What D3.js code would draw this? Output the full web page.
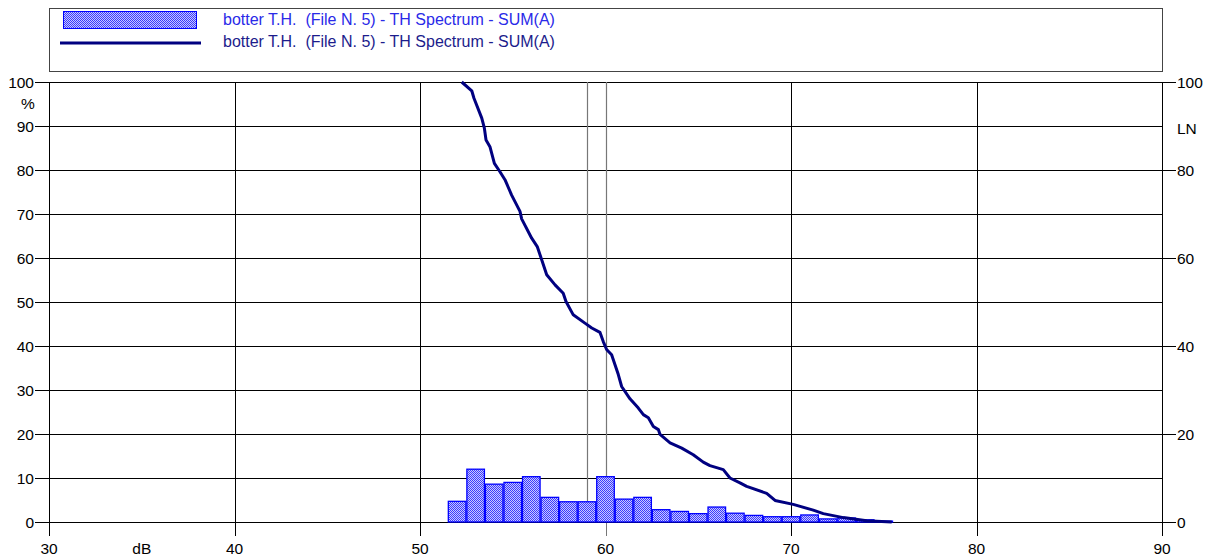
<!DOCTYPE html>
<html><head><meta charset="utf-8">
<script src="https://cdn.jsdelivr.net/npm/d3@7"></script>
<style>
html,body{margin:0;padding:0;background:#fff;}
svg{display:block;font-family:"Liberation Sans",Arial,sans-serif;}
text{white-space:pre;}
</style></head><body>
<svg id="c" width="1210" height="557"></svg>
<script>
// ---- data ----
const legendLabels = ["botter T.H.  (File N. 5) - TH Spectrum - SUM(A)", "botter T.H.  (File N. 5) - TH Spectrum - SUM(A)"];
const xTicks = [30, 40, 50, 60, 70, 80, 90];
const yTicksLeft = [0, 10, 20, 30, 40, 50, 60, 70, 80, 90, 100];
const yTicksRight = [0, 20, 40, 60, 80, 100];
const markers = [59, 60];
const binCenters = [52,53,54,55,56,57,58,59,60,61,62,63,64,65,66,67,68,69,70,71,72,73,74,75];
const binValues  = [4.7,12.0,8.6,9.0,10.3,5.6,4.6,4.6,10.3,5.2,5.6,2.8,2.4,1.9,3.4,2.0,1.5,1.2,1.2,1.6,0.7,0.9,0.5,0.2];
const lnDb  = [52.25,52.79,52.91,53.33,53.47,53.56,53.77,54.01,54.31,54.58,54.94,55.39,55.48,56.02,56.32,56.56,56.83,57.28,57.72,57.87,58.18,58.26,58.89,59.26,59.70,59.88,60.06,60.33,60.69,60.87,61.32,61.77,62.04,62.31,62.58,62.85,62.94,63.48,64.11,64.73,65.27,65.63,66.35,66.71,67.25,67.61,68.69,69.14,70.12,71.20,71.74,72.82,74.08,75.43];
const lnPct = [100,98.0,96.3,91.8,89.5,86.8,85.3,81.5,79.6,77.8,74.3,70.6,68.9,64.5,62.6,59.6,56.2,53.9,52.0,50.1,47.7,47.1,45.2,44.1,43.1,41.0,39.2,38.0,33.5,30.8,28.0,25.9,24.4,23.7,21.7,21.0,19.9,18.0,16.8,15.3,13.6,12.8,11.9,10.0,8.9,8.1,6.5,4.9,4.0,2.7,1.9,1.0,0.3,0.0];

// ---- chart ----
const svg = d3.select("#c");
const L = 49, R = 1162, T = 82, B = 522;
const x = d3.scaleLinear().domain([30, 90]).range([L, R]);
const y = d3.scaleLinear().domain([0, 100]).range([B, T]);

const defs = svg.append("defs");
const pat = defs.append("pattern").attr("id","chk").attr("width",2).attr("height",2).attr("patternUnits","userSpaceOnUse");
pat.append("rect").attr("width",2).attr("height",2).attr("fill","#c8c8ff");
pat.append("rect").attr("width",1).attr("height",1).attr("fill","#3a3aff");
pat.append("rect").attr("x",1).attr("y",1).attr("width",1).attr("height",1).attr("fill","#3a3aff");

// legend
const lg = svg.append("g");
lg.append("rect").attr("x",49.5).attr("y",8.5).attr("width",R-49).attr("height",63).attr("fill","#fff").attr("stroke","#444").attr("stroke-width",1);
lg.append("rect").attr("x",63.5).attr("y",11.5).attr("width",133).attr("height",17).attr("fill","url(#chk)").attr("stroke","#0000ff").attr("stroke-width",1);
lg.append("line").attr("x1",60).attr("x2",201).attr("y1",43).attr("y2",43).attr("stroke","#000080").attr("stroke-width",3);
lg.append("text").attr("x",223).attr("y",24.5).attr("font-size",16).attr("fill","#2a2ae8").text(legendLabels[0]);
lg.append("text").attr("x",223).attr("y",47).attr("font-size",16).attr("fill","#1c1c8c").text(legendLabels[1]);

// grid
const g = svg.append("g");
g.selectAll(".hg").data(yTicksLeft).join("line")
  .attr("x1", L - 14).attr("x2", R).attr("y1", d => Math.round(y(d)) + 0.5).attr("y2", d => Math.round(y(d)) + 0.5)
  .attr("stroke", "#000").attr("stroke-width", 1);
g.selectAll(".rt").data(yTicksRight).join("line")
  .attr("x1", R).attr("x2", R + 14).attr("y1", d => Math.round(y(d)) + 0.5).attr("y2", d => Math.round(y(d)) + 0.5)
  .attr("stroke", "#000").attr("stroke-width", 1);
g.selectAll(".vg").data(xTicks).join("line")
  .attr("x1", d => Math.round(x(d)) + 0.5).attr("x2", d => Math.round(x(d)) + 0.5)
  .attr("y1", T).attr("y2", B + 14)
  .attr("stroke", d => markers.includes(d) ? "#777" : "#000").attr("stroke-width", 1);
g.selectAll(".mk").data(markers).join("line")
  .attr("x1", d => Math.round(x(d)) + 0.5).attr("x2", d => Math.round(x(d)) + 0.5)
  .attr("y1", T).attr("y2", B)
  .attr("stroke", "#777").attr("stroke-width", 1.2);
g.append("line").attr("x1", L).attr("x2", R).attr("y1", Math.round(y(0)) + 0.5).attr("y2", Math.round(y(0)) + 0.5).attr("stroke","#000");

// labels
const lab = svg.append("g").attr("font-size", 15.5).attr("fill", "#000");
lab.selectAll(".yl").data(yTicksLeft).join("text")
  .attr("x", 34).attr("y", d => y(d) + 5.5).attr("text-anchor", "end").text(d => d);
lab.selectAll(".yr").data(yTicksRight).join("text")
  .attr("x", 1177).attr("y", d => y(d) + 5.5).attr("text-anchor", "start").text(d => d);
lab.selectAll(".xl").data(xTicks).join("text")
  .attr("x", d => x(d)).attr("y", 554).attr("text-anchor", "middle").text(d => d);
lab.append("text").attr("x", x(35)).attr("y", 554).attr("text-anchor", "middle").text("dB");
lab.append("text").attr("x", 28).attr("y", 108.5).attr("text-anchor", "middle").text("%");
lab.append("text").attr("x", 1177).attr("y", 134).attr("text-anchor", "start").text("LN");

// bars
svg.append("g").selectAll("rect").data(binCenters).join("rect")
  .attr("x", d => x(d - 0.5) + 0.5)
  .attr("width", d => x(d + 0.5) - x(d - 0.5) - 1)
  .attr("y", (d, i) => y(binValues[i]))
  .attr("height", (d, i) => y(0) - y(binValues[i]))
  .attr("fill", "url(#chk)").attr("stroke", "#0000ff").attr("stroke-width", 1.3);

// cumulative curve
const pts = lnDb.map((d, i) => [d, lnPct[i]]);
svg.append("path").datum(pts)
  .attr("d", d3.line().x(d => x(d[0])).y(d => y(d[1])))
  .attr("fill", "none").attr("stroke", "#000080").attr("stroke-width", 3).attr("stroke-linejoin", "round");
</script>
</body></html>
